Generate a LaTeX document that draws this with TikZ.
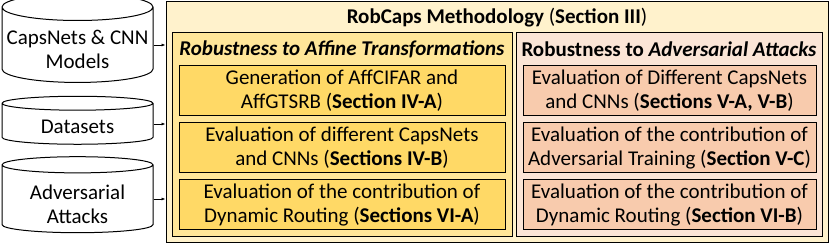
\documentclass[tikz,border=0pt]{standalone}
\usepackage{fontspec}
\setmainfont{Carlito}
\usepackage{xcolor}
\usepackage{tikz}
\usetikzlibrary{arrows.meta,positioning,shapes.geometric}

\definecolor{outerfill}{HTML}{FFF2CC}
\definecolor{affgrp}{HTML}{FFE699}
\definecolor{affbox}{HTML}{FFD966}
\definecolor{advgrp}{HTML}{FBE5D6}
\definecolor{advbox}{HTML}{F8CBAD}

% text sitting a bit lower in the cylinder body
\newcommand{\dbtext}[2][5pt]{\raisebox{-#1}[\height][\depth]{\begin{tabular}{@{}c@{}}#2\end{tabular}}}

\begin{document}
\begin{tikzpicture}[x=1pt,y=-1pt,
    every node/.style={font=\fontsize{21}{24}\selectfont},
    db/.style={cylinder,shape border rotate=90,draw,line width=1pt,fill=white,
        aspect=0.19,minimum width=151pt,align=center,inner sep=0pt},
    grpbox/.style={draw,line width=1pt,minimum width=#1,minimum height=204pt,inner sep=0pt},
    inbox/.style={draw,line width=1pt,align=center,inner sep=0pt,minimum height=50pt},
    feed/.style={-{Latex[length=4pt,width=3pt]},line width=0.7pt}]
    \useasboundingbox (0,0) rectangle (830,245);

    % inputs
    \node[db,minimum height=76pt] (models) at (77.5,45) {\dbtext[7pt]{CapsNets \& CNN\\Models}};
    \node[db,minimum height=48pt] (data) at (77.5,124) {\dbtext[5pt]{Datasets}};
    \node[db,minimum height=76pt,aspect=0.17] (attacks) at (77.5,199) {\dbtext[8pt]{Adversarial\\Attacks}};

    % methodology
    \node[draw,line width=1pt,fill=outerfill,minimum width=662pt,minimum height=241pt] (method) at (497,122.5) {};
    \node (title) at (497,18) {\textbf{RobCaps Methodology} (\textbf{Section III})};

    \node[grpbox=340pt,fill=affgrp] (affine) at (342,135) {};
    \node (affhead) at (342,49) {\textbf{\textit{Robustness to Affine Transformations}}};
    \node[inbox,fill=affbox,minimum width=326pt] (aff1) at (342,90.5) {Generation of AffCIFAR and\\AffGTSRB (\textbf{Section IV-A})};
    \node[inbox,fill=affbox,minimum width=326pt] (aff2) at (342,148) {Evaluation of different CapsNets\\and CNNs (\textbf{Sections IV-B})};
    \node[inbox,fill=affbox,minimum width=326pt] (aff3) at (342,205) {Evaluation of the contribution of\\Dynamic Routing (\textbf{Sections VI-A})};

    \node[grpbox=306pt,fill=advgrp] (advers) at (669,135) {};
    \node (advhead) at (669,49) {\textbf{Robustness to \textit{Adversarial Attacks}}};
    \node[inbox,fill=advbox,minimum width=293pt] (adv1) at (669.5,90.5) {Evaluation of Different CapsNets\\and CNNs (\textbf{Sections V-A, V-B})};
    \node[inbox,fill=advbox,minimum width=293pt] (adv2) at (669.5,148) {Evaluation of the contribution of\\Adversarial Training (\textbf{Section V-C})};
    \node[inbox,fill=advbox,minimum width=293pt] (adv3) at (669.5,205) {Evaluation of the contribution of\\Dynamic Routing (\textbf{Section VI-B})};

    \foreach \src in {models,data,attacks}
        \draw[feed] (\src.east) -- (\src.east -| method.west);
\end{tikzpicture}
\end{document}
